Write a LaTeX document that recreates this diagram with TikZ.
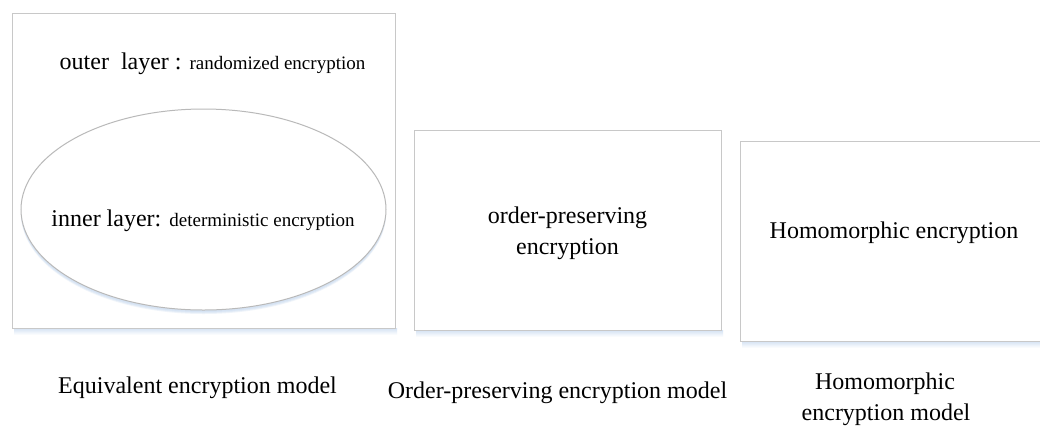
\documentclass[tikz,border=0pt]{standalone}
\usepackage{fontspec}
\setmainfont{Liberation Serif}
\usetikzlibrary{shapes.geometric}
\definecolor{boxgray}{RGB}{200,200,200}
\definecolor{ellgray}{RGB}{185,185,185}
\definecolor{shadowblue}{RGB}{212,226,243}
\begin{document}
\begin{tikzpicture}[x=0.5pt,y=-0.5pt,
  frame/.style={draw=boxgray, line width=0.7pt, fill=white, inner sep=0pt, anchor=north west},
  big/.style={font=\fontsize{12}{15.5}\selectfont, inner sep=0pt},
]
\useasboundingbox (0,0) rectangle (1040,425);
\fill[white] (0,0) rectangle (1040,425);

% soft blue shadows under the three frames
\foreach \x/\w/\b in {12/383/328, 414/307/330, 740/310/341}{
  \shade[top color=shadowblue, bottom color=white] (\x+2,\b) rectangle (\x+\w+2,\b+7);
}

% frames
\node[frame, minimum width=191.5pt, minimum height=157.5pt] (eq) at (12,13) {};
\node[frame, minimum width=153.5pt, minimum height=100pt] (ope) at (414,130) {};
\node[frame, minimum width=155pt, minimum height=100pt] (he) at (740,141) {};

% inner layer ellipse with its shadow
\foreach \d/\o in {4/0.35, 3/0.55, 2/0.8}{
  \fill[shadowblue, opacity=\o] (203.5,209.5+\d) ellipse [x radius=91.25pt, y radius=50.25pt];
}
\node[ellipse, draw=ellgray, line width=0.5pt, fill=white, inner sep=0pt,
      minimum width=182.5pt, minimum height=100.5pt] (inner) at (203.5,209.5) {};

% texts inside the frames
\node[big, anchor=base] (outertxt) at (212.5,69)
  {outer\ \ layer : {\fontsize{9.5}{11}\selectfont randomized encryption}};
\node[big, anchor=base] (innertxt) at (203,226)
  {inner layer: {\fontsize{9.5}{11}\selectfont deterministic encryption}};
% the base anchor of a two-line node sits on its last line
\node[big, align=center, anchor=base] (opetxt) at (567.5,254)
  {order-preserving\\encryption};
\node[big, anchor=base] (hetxt) at (894,238) {Homomorphic encryption};

% captions
\node[big, anchor=base] (eqcap) at (197.5,393) {Equivalent encryption model};
\node[big, anchor=base] (opecap) at (557.5,398) {Order-preserving encryption model};
\node[big, anchor=base] (hecap1) at (885,389) {Homomorphic};
\node[big, anchor=base] (hecap2) at (886,420) {encryption model};
\end{tikzpicture}
\end{document}
